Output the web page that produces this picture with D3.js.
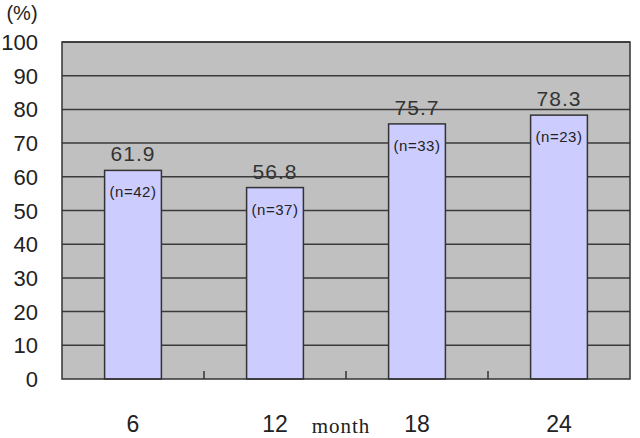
<!DOCTYPE html>
<html lang="en">
<head>
<meta charset="UTF-8">
<title>Bar chart</title>
<script src="https://d3js.org/d3.v7.min.js"></script>
<style>
  body { margin: 0; background: white; }
  svg { display: block; font-family: "Liberation Sans", Arial, sans-serif; }
</style>
</head>
<body>
<svg id="chart"></svg>
<script>
// data
const months = ["6", "12", "18", "24"];
const rates = [61.9, 56.8, 75.7, 78.3];
const counts = [42, 37, 33, 23];
const yTicks = [0, 10, 20, 30, 40, 50, 60, 70, 80, 90, 100];

const w = 640, h = 438;
const plotLeft = 62, plotRight = 630, plotTop = 42, plotBottom = 379;

const svg = d3.select("#chart").attr("width", w).attr("height", h);

const x = d3.scaleBand().domain(months).range([plotLeft, plotRight]).paddingInner(0.6).paddingOuter(0.3);
const band = d3.scaleBand().domain(months).range([plotLeft, plotRight]);
const y = d3.scaleLinear().domain([0, 100]).range([plotBottom, plotTop]);

// plot background
svg.append("rect")
   .attr("x", plotLeft).attr("y", plotTop)
   .attr("width", plotRight - plotLeft).attr("height", plotBottom - plotTop)
   .attr("fill", "#c0c0c0");

// gridlines
svg.selectAll(".grid")
   .data(yTicks.slice(1))
   .enter().append("line")
   .attr("x1", plotLeft).attr("x2", plotRight)
   .attr("y1", d => y(d)).attr("y2", d => y(d))
   .attr("stroke", "#3a3a3a").attr("stroke-width", 1.5);

// y tick labels
svg.selectAll(".ylab")
   .data(yTicks)
   .enter().append("text")
   .attr("x", 38).attr("y", d => y(d) + 8)
   .attr("text-anchor", "end")
   .attr("font-size", 22)
   .attr("fill", "#222")
   .text(d => d);

svg.append("text").attr("x", 22).attr("y", 20)
   .attr("text-anchor", "middle").attr("font-size", 20).attr("fill", "#222")
   .text("(%)");

// bars
svg.selectAll(".bar")
   .data(rates)
   .enter().append("rect")
   .attr("x", (d, i) => x(months[i]))
   .attr("y", d => y(d))
   .attr("width", x.bandwidth())
   .attr("height", d => plotBottom - y(d))
   .attr("fill", "#ccccff")
   .attr("stroke", "#333").attr("stroke-width", 1.5);

// value labels
svg.selectAll(".val")
   .data(rates)
   .enter().append("text")
   .attr("x", (d, i) => x(months[i]) + x.bandwidth() / 2)
   .attr("y", d => y(d) - 9)
   .attr("text-anchor", "middle")
   .attr("font-size", 21)
   .attr("letter-spacing", 1)
   .attr("fill", "#333")
   .text(d => d.toFixed(1));

// n labels
svg.selectAll(".n")
   .data(counts)
   .enter().append("text")
   .attr("x", (d, i) => x(months[i]) + x.bandwidth() / 2)
   .attr("y", (d, i) => y(rates[i]) + 27)
   .attr("text-anchor", "middle")
   .attr("font-size", 15)
   .attr("letter-spacing", 0.5)
   .attr("fill", "#222")
   .text(d => "(n=" + d + ")");

// plot border
svg.append("rect")
   .attr("x", plotLeft).attr("y", plotTop)
   .attr("width", plotRight - plotLeft).attr("height", plotBottom - plotTop)
   .attr("fill", "none").attr("stroke", "#333").attr("stroke-width", 1.5);

// x axis tick marks between categories
svg.selectAll(".xtick")
   .data(months.slice(1))
   .enter().append("line")
   .attr("x1", d => band(d)).attr("x2", d => band(d))
   .attr("y1", plotBottom).attr("y2", plotBottom - 8)
   .attr("stroke", "#333").attr("stroke-width", 1.5);

// x labels
svg.selectAll(".xlab")
   .data(months)
   .enter().append("text")
   .attr("x", d => x(d) + x.bandwidth() / 2)
   .attr("y", 432)
   .attr("text-anchor", "middle")
   .attr("font-size", 23)
   .attr("fill", "#222")
   .text(d => d);

svg.append("text").attr("x", 341).attr("y", 433)
   .attr("text-anchor", "middle")
   .attr("font-family", "'Liberation Serif', 'DejaVu Serif', serif")
   .attr("font-size", 21).attr("letter-spacing", 1).attr("fill", "#222")
   .text("month");
</script>
</body>
</html>
